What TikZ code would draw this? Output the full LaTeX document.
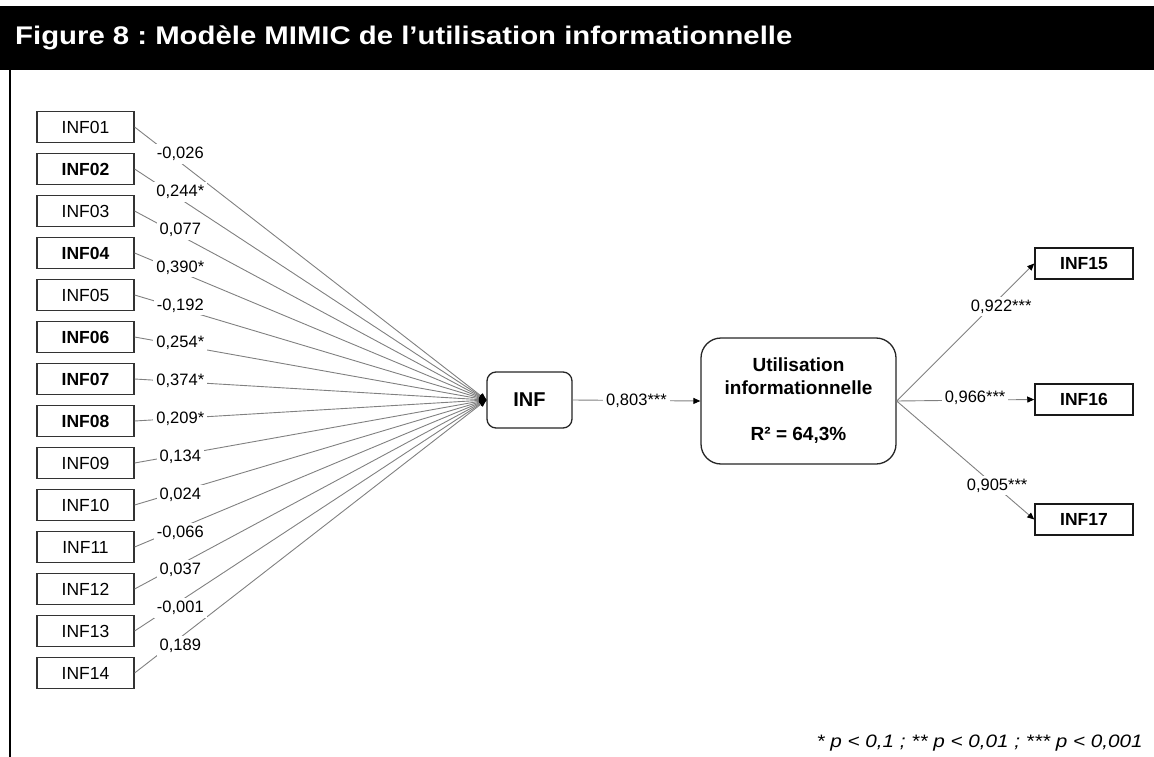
\documentclass[tikz,border=0pt]{standalone}
\usepackage{fontspec}
\setmainfont{Liberation Sans}
\newfontfamily\widefont[FakeStretch=1.15]{Liberation Sans}
\usetikzlibrary{arrows.meta}
\begin{document}
\frenchspacing
\begin{tikzpicture}[x=1pt,y=-1pt,
  ind/.style={draw=black!80, line width=1.2pt, minimum width=97pt, minimum height=31pt,
    inner sep=0pt, fill=white, font=\fontsize{17.5}{20}\selectfont},
  indr/.style={ind, line width=1.5pt, draw=black!90, minimum width=98pt, font=\fontsize{17.5}{20}\selectfont\bfseries},
  latent/.style={draw=black!85, line width=1.3pt, fill=white, inner sep=0pt},
  link/.style={draw=black!50, line width=0.9pt, -{Triangle[length=7pt,width=6pt,color=black]}},
  lbl/.style={fill=white, inner sep=3pt, font=\fontsize{16.5}{19}\selectfont}
]
\useasboundingbox (0,0) rectangle (1154,757);
% title bar
\fill[black] (0,6) rectangle (1154,70);
\node[anchor=base west, text=white, inner sep=0pt, font=\widefont\fontsize{25.5}{30}\selectfont\bfseries]
  (title) at (15,45) {Figure 8 : Modèle MIMIC de l’utilisation informationnelle};
% left frame line
\draw[line width=2.5pt] (10,70) -- (10,757);

% latent nodes
\node[latent, rounded corners=9pt, minimum width=85pt, minimum height=56pt,
  font=\fontsize{20}{24}\selectfont\bfseries] (inf) at (529.5,400) {INF};
\node[latent, rounded corners=20pt, minimum width=195pt, minimum height=126pt, align=center,
  font=\fontsize{19}{22.5}\selectfont\bfseries] (util) at (798.5,401)
  {Utilisation\\informationnelle\\[24pt]R² = 64,3\%};

% formative indicators
\foreach \b [count=\k] in {0,1,0,1,0,1,1,1,0,0,0,0,0,0}{
  \pgfmathsetmacro\yy{127+42*(\k-1)}
  \node[ind] (i\k) at (85.5,\yy) {\ifnum\b=1 \bfseries\fi INF\ifnum\k<10 0\fi\k};
}
\foreach \k in {1,...,14}{
  \draw[link] (i\k.east) -- (inf.west);
}
\foreach \lab [count=\k] in {{-0,026},{0,244*},{0,077},{0,390*},{-0,192},{0,254*},{0,374*},{0,209*},{0,134},{0,024},{-0,066},{0,037},{-0,001},{0,189}}{
  \pgfmathsetmacro\yy{127+42*(\k-1)}
  \pgfmathsetmacro\sh{0.031*(400-\yy)}
  \path (i\k.east) -- (inf.west) node[lbl, pos=0.13, yshift=\sh pt] (l\k) {\lab};
}

% structural path
\draw[link] (inf.east) -- (util.west) node[lbl, pos=0.5] (lp) {0,803***};

% reflective indicators
\node[indr] (i15) at (1084,263.5) {INF15};
\node[indr] (i16) at (1084,399.5) {INF16};
\node[indr] (i17) at (1084,519.5) {INF17};
\draw[link] (util.east) -- (i15.west) node[lbl, pos=0.76, yshift=-10pt] (l15) {0,922***};
\draw[link] (util.east) -- (i16.west) node[lbl, pos=0.57, yshift=2pt] (l16) {0,966***};
\draw[link] (util.east) -- (i17.west) node[lbl, pos=0.73, yshift=2pt] (l17) {0,905***};

% footnote
\node[anchor=base east, inner sep=0pt, font=\widefont\fontsize{18}{21}\selectfont\itshape]
  (note) at (1143,747) {* p < 0,1 ; ** p < 0,01 ; *** p < 0,001};
\end{tikzpicture}
\end{document}
